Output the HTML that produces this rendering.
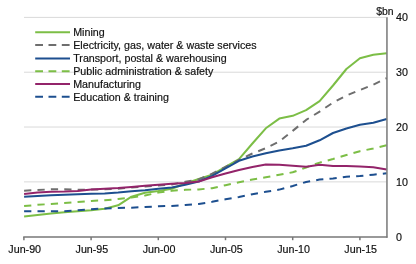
<!DOCTYPE html>
<html><head><meta charset="utf-8"><style>
html,body{margin:0;padding:0;background:#fff;}
svg{display:block;will-change:transform;} .wrap{width:416px;height:264px;}
text{font-family:"Liberation Sans", sans-serif;font-size:10.7px;fill:#111;stroke:#111;stroke-width:0.18px;}
</style></head><body><div class="wrap">
<svg width="416" height="264" viewBox="0 0 416 264">
<rect width="416" height="264" fill="#fff"/>
<line x1="24" y1="181.87" x2="386.2" y2="181.87" stroke="#d9d9d9" stroke-width="1"/>
<line x1="24" y1="127.04" x2="386.2" y2="127.04" stroke="#d9d9d9" stroke-width="1"/>
<line x1="24" y1="72.21" x2="386.2" y2="72.21" stroke="#d9d9d9" stroke-width="1"/>
<line x1="24" y1="17.38" x2="386.2" y2="17.38" stroke="#d9d9d9" stroke-width="1"/>

<g fill="none" stroke-width="2" stroke-linejoin="round">
<path d="M24.1,216.4 L37.5,214.9 L51.0,213.5 L64.4,212.3 L77.8,211.2 L91.2,210.2 L104.7,208.8 L118.1,205.3 L131.5,196.7 L145.0,192.8 L158.4,191.0 L171.8,188.8 L185.3,183.5 L198.7,179.0 L212.1,174.6 L225.5,166.9 L239.0,159.1 L252.4,143.5 L265.8,128.3 L279.3,118.6 L292.7,115.8 L306.1,110.2 L319.6,101.2 L333.0,85.5 L346.4,69.0 L359.9,58.3 L373.3,54.8 L386.7,53.2" stroke="#7cbe46"/>
<path d="M24.1,190.7 L37.5,190.0 L51.0,189.3 L64.4,189.2 L77.8,189.7 L91.2,189.6 L104.7,189.2 L118.1,188.7 L131.5,187.6 L145.0,186.4 L158.4,185.5 L171.8,184.5 L185.3,181.7 L198.7,179.4 L212.1,173.7 L225.5,167.0 L239.0,159.8 L252.4,153.5 L265.8,148.2 L279.3,141.5 L292.7,130.9 L306.1,119.9 L319.6,111.6 L333.0,102.6 L346.4,95.5 L359.9,90.0 L373.3,84.7 L386.7,78.2" stroke="#6e6e6e" stroke-dasharray="7.25,6.15"/>
<path d="M24.1,196.7 L37.5,196.0 L51.0,195.3 L64.4,194.7 L77.8,194.2 L91.2,193.8 L104.7,193.4 L118.1,192.5 L131.5,191.3 L145.0,190.2 L158.4,188.7 L171.8,187.5 L185.3,184.8 L198.7,181.5 L212.1,175.9 L225.5,168.3 L239.0,160.8 L252.4,156.5 L265.8,153.2 L279.3,150.5 L292.7,148.3 L306.1,145.7 L319.6,140.3 L333.0,133.0 L346.4,128.5 L359.9,124.8 L373.3,122.7 L386.7,119.0" stroke="#1d4f8f"/>
<path d="M24.1,206.1 L37.5,204.8 L51.0,204.0 L64.4,203.0 L77.8,202.0 L91.2,200.9 L104.7,200.3 L118.1,199.0 L131.5,197.5 L145.0,195.5 L158.4,192.6 L171.8,190.8 L185.3,189.8 L198.7,189.4 L212.1,188.2 L225.5,185.2 L239.0,182.2 L252.4,179.5 L265.8,177.3 L279.3,174.8 L292.7,172.3 L306.1,167.5 L319.6,162.6 L333.0,159.0 L346.4,155.0 L359.9,151.2 L373.3,148.5 L386.7,145.3" stroke="#7cbe46" stroke-dasharray="7.25,6.15"/>
<path d="M24.1,194.0 L37.5,192.6 L51.0,191.7 L64.4,191.5 L77.8,191.0 L91.2,189.5 L104.7,188.7 L118.1,188.0 L131.5,187.0 L145.0,185.8 L158.4,184.8 L171.8,183.7 L185.3,183.0 L198.7,181.6 L212.1,177.3 L225.5,173.5 L239.0,170.0 L252.4,167.0 L265.8,164.5 L279.3,164.8 L292.7,165.8 L306.1,166.8 L319.6,164.8 L333.0,166.0 L346.4,166.0 L359.9,166.4 L373.3,167.3 L386.7,169.5" stroke="#93246a"/>
<path d="M24.1,211.3 L37.5,211.3 L51.0,211.3 L64.4,211.2 L77.8,210.3 L91.2,209.2 L104.7,208.4 L118.1,208.0 L131.5,207.7 L145.0,207.0 L158.4,206.3 L171.8,205.9 L185.3,205.0 L198.7,204.0 L212.1,201.8 L225.5,199.2 L239.0,197.0 L252.4,194.2 L265.8,191.8 L279.3,189.6 L292.7,186.0 L306.1,182.0 L319.6,179.6 L333.0,178.4 L346.4,176.7 L359.9,176.0 L373.3,174.7 L386.7,173.2" stroke="#1d4f8f" stroke-dasharray="7.25,6.15"/>
</g>
<line x1="23.2" y1="236.95" x2="387.4" y2="236.95" stroke="#777" stroke-width="1.5"/>
<line x1="386.95" y1="17.2" x2="386.95" y2="237.7" stroke="#777" stroke-width="1.5"/>
<line x1="23.9" y1="237" x2="23.9" y2="240.2" stroke="#777" stroke-width="1.5"/>
<line x1="91.1" y1="237" x2="91.1" y2="240.2" stroke="#777" stroke-width="1.5"/>
<line x1="158.3" y1="237" x2="158.3" y2="240.2" stroke="#777" stroke-width="1.5"/>
<line x1="225.5" y1="237" x2="225.5" y2="240.2" stroke="#777" stroke-width="1.5"/>
<line x1="292.7" y1="237" x2="292.7" y2="240.2" stroke="#777" stroke-width="1.5"/>
<line x1="359.9" y1="237" x2="359.9" y2="240.2" stroke="#777" stroke-width="1.5"/>

<g>
<line x1="35.2" y1="32.30" x2="70" y2="32.30" stroke="#7cbe46" stroke-width="2"/>
<text x="73.2" y="36.10">Mining</text>
<line x1="35.2" y1="44.90" x2="70" y2="44.90" stroke="#6e6e6e" stroke-width="2" stroke-dasharray="7.8,5.5"/>
<text x="73.2" y="48.70">Electricity, gas, water &amp; waste services</text>
<line x1="35.2" y1="58.40" x2="70" y2="58.40" stroke="#1d4f8f" stroke-width="2"/>
<text x="73.2" y="62.20">Transport, postal &amp; warehousing</text>
<line x1="35.2" y1="71.20" x2="70" y2="71.20" stroke="#7cbe46" stroke-width="2" stroke-dasharray="7.8,5.5"/>
<text x="73.2" y="75.00">Public administration &amp; safety</text>
<line x1="35.2" y1="83.95" x2="70" y2="83.95" stroke="#93246a" stroke-width="2"/>
<text x="73.2" y="87.75">Manufacturing</text>
<line x1="35.2" y1="96.80" x2="70" y2="96.80" stroke="#1d4f8f" stroke-width="2" stroke-dasharray="7.8,5.5"/>
<text x="73.2" y="100.60">Education &amp; training</text>

<text x="396" y="240.60">0</text>
<text x="396" y="185.77">10</text>
<text x="396" y="130.94">20</text>
<text x="396" y="76.11">30</text>
<text x="396" y="21.28">40</text>

<text x="24.7" y="253" text-anchor="middle">Jun-90</text>
<text x="91.9" y="253" text-anchor="middle">Jun-95</text>
<text x="159.1" y="253" text-anchor="middle">Jun-00</text>
<text x="226.3" y="253" text-anchor="middle">Jun-05</text>
<text x="293.5" y="253" text-anchor="middle">Jun-10</text>
<text x="360.7" y="253" text-anchor="middle">Jun-15</text>

<text x="376.2" y="14.8" style="font-size:10.4px">$bn</text>
</g>
</svg></div>
</body></html>
